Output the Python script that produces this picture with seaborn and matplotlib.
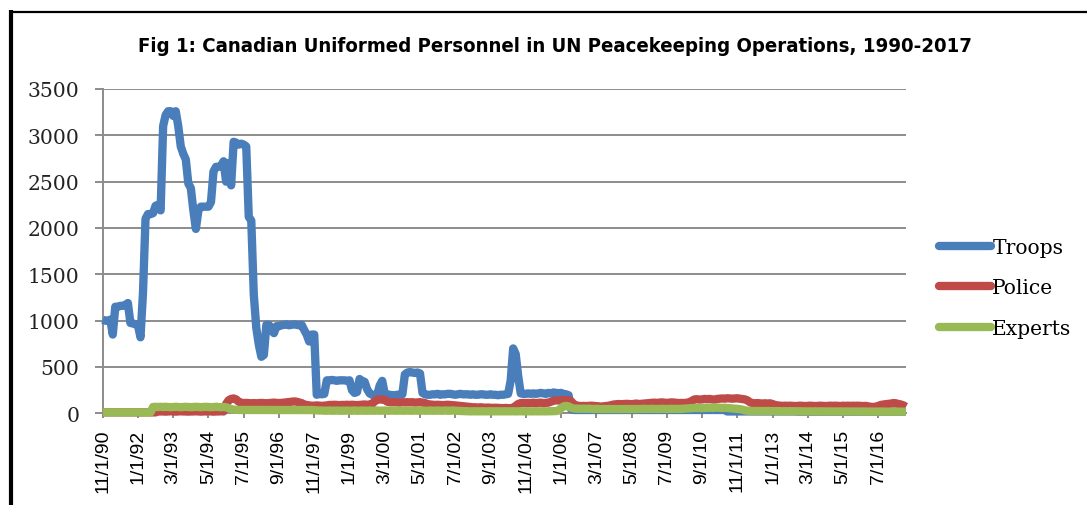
import numpy as np
import pandas as pd
import matplotlib
matplotlib.use("Agg")
import matplotlib.pyplot as plt
import seaborn as sns
from matplotlib.lines import Line2D
from matplotlib import font_manager
from matplotlib.font_manager import FontProperties

# ---------------- data (monthly, Nov 1990 - Jun 2017) ----------------
months = pd.date_range("1990-11-01", periods=320, freq="MS")

troops = [
    1010, 1000, 1000, 1010, 850, 1150, 1150, 1160, 1160, 1170, 1190, 975,
    970, 960, 950, 820, 1300, 2100, 2150, 2150, 2160, 2240, 2250, 2190,
    3100, 3220, 3260, 3260, 3210, 3260, 3100, 2880, 2800, 2740, 2480, 2430,
    2190, 1990, 2190, 2230, 2230, 2230, 2230, 2280, 2610, 2660, 2660, 2670,
    2720, 2500, 2700, 2460, 2930, 2920, 2900, 2910, 2900, 2880, 2120, 2080,
    1280, 920, 740, 610, 630, 955, 955, 900, 865, 940, 940, 950,
    955, 960, 950, 955, 960, 955, 950, 955, 900, 850, 775, 850,
    850, 200, 210, 205, 210, 356, 356, 360, 356, 350, 356, 356,
    356, 350, 356, 250, 220, 230, 370, 350, 340, 260, 215, 200,
    195, 200, 300, 350, 210, 205, 200, 195, 195, 200, 200, 205,
    420, 440, 445, 440, 435, 440, 430, 220, 205, 200, 200, 205,
    205, 210, 200, 205, 205, 210, 210, 205, 200, 205, 210, 205,
    205, 205, 200, 205, 200, 200, 205, 205, 200, 200, 205, 200,
    200, 195, 200, 200, 205, 210, 350, 700, 640, 400, 215, 210,
    210, 215, 210, 215, 210, 215, 220, 215, 210, 220, 215, 225,
    220, 215, 220, 210, 205, 195, 45, 36, 36, 36, 36, 36,
    36, 36, 36, 36, 36, 36, 36, 36, 36, 36, 36, 36,
    36, 36, 36, 36, 36, 36, 36, 36, 36, 36, 36, 36,
    36, 36, 36, 36, 36, 36, 36, 36, 36, 36, 36, 36,
    36, 36, 36, 36, 36, 36, 36, 36, 36, 36, 36, 36,
    36, 36, 36, 36, 36, 36, 36, 36, 20, 20, 20, 20,
    20, 20, 20, 20, 20, 20, 20, 20, 20, 20, 20, 20,
    20, 20, 20, 20, 20, 20, 20, 20, 20, 20, 20, 20,
    18, 18, 18, 18, 18, 18, 18, 18, 18, 18, 18, 18,
    18, 18, 18, 18, 18, 18, 18, 18, 18, 18, 18, 18,
    18, 18, 18, 18, 18, 18, 18, 18, 18, 18, 18, 18,
    18, 18, 18, 18, 18, 18, 18, 18,
]

police = [
    10, 10, 10, 10, 10, 10, 10, 10, 10, 10, 10, 10,
    10, 10, 10, 10, 10, 10, 10, 10, 10, 10, 20, 20,
    20, 18, 20, 22, 20, 18, 20, 22, 20, 20, 18, 20,
    20, 22, 20, 18, 20, 20, 22, 20, 18, 20, 20, 22,
    20, 100, 140, 155, 160, 150, 125, 115, 110, 112, 110, 108,
    110, 108, 110, 112, 110, 108, 110, 112, 115, 112, 110, 112,
    115, 118, 120, 125, 128, 125, 118, 110, 95, 90, 85, 82,
    82, 85, 82, 80, 82, 85, 90, 90, 92, 90, 88, 90,
    90, 92, 90, 92, 90, 88, 90, 92, 95, 92, 95, 100,
    130, 145, 150, 148, 145, 125, 120, 118, 120, 118, 115, 120,
    118, 120, 118, 120, 115, 118, 120, 115, 110, 100, 95, 92,
    90, 92, 90, 88, 90, 92, 90, 88, 85, 82, 78, 75,
    72, 70, 68, 65, 65, 62, 65, 62, 60, 62, 60, 58,
    60, 58, 55, 55, 58, 55, 55, 60, 80, 100, 110, 112,
    110, 112, 110, 115, 110, 112, 115, 110, 112, 115, 125, 135,
    140, 138, 140, 135, 145, 140, 130, 100, 85, 80, 78, 80,
    78, 80, 82, 80, 78, 75, 72, 75, 78, 82, 88, 95,
    98, 100, 98, 100, 102, 100, 98, 102, 105, 100, 102, 105,
    108, 110, 112, 115, 112, 115, 118, 115, 112, 115, 118, 115,
    112, 110, 112, 110, 115, 118, 135, 150, 152, 148, 150, 155,
    152, 155, 150, 148, 155, 158, 160, 158, 162, 160, 158, 160,
    162, 158, 155, 150, 140, 120, 110, 108, 110, 108, 105, 108,
    105, 108, 100, 90, 85, 82, 80, 82, 80, 82, 80, 78,
    80, 82, 80, 78, 80, 82, 80, 78, 80, 82, 80, 78,
    80, 82, 80, 82, 80, 78, 82, 80, 82, 80, 82, 80,
    82, 80, 78, 80, 75, 70, 68, 72, 80, 90, 95, 98,
    100, 105, 110, 108, 100, 95, 85, 70,
]

experts = [
    10, 10, 10, 10, 10, 10, 10, 10, 10, 10, 10, 10,
    10, 10, 10, 10, 10, 10, 10, 10, 68, 70, 68, 70,
    68, 70, 68, 66, 68, 70, 68, 66, 68, 70, 68, 66,
    68, 70, 68, 66, 68, 70, 68, 66, 68, 70, 68, 66,
    68, 65, 55, 45, 40, 38, 36, 36, 35, 36, 35, 36,
    36, 35, 36, 37, 36, 35, 36, 37, 36, 35, 36, 37,
    36, 35, 36, 37, 36, 35, 36, 37, 36, 35, 36, 35,
    34, 32, 30, 30, 28, 28, 30, 28, 28, 30, 28, 28,
    28, 30, 28, 28, 30, 28, 28, 30, 28, 28, 30, 28,
    28, 30, 28, 28, 30, 28, 28, 30, 28, 28, 30, 28,
    28, 30, 28, 28, 30, 28, 28, 30, 28, 28, 30, 28,
    28, 30, 28, 28, 30, 28, 28, 30, 28, 26, 25, 24,
    22, 22, 21, 22, 22, 21, 22, 22, 21, 22, 22, 21,
    22, 22, 21, 22, 22, 21, 22, 22, 21, 22, 22, 21,
    22, 22, 21, 22, 22, 21, 22, 22, 21, 22, 22, 24,
    24, 30, 55, 75, 80, 75, 60, 52, 50, 50, 48, 50,
    48, 50, 48, 46, 48, 46, 45, 46, 45, 46, 45, 46,
    45, 46, 45, 46, 45, 46, 45, 46, 45, 46, 47, 48,
    46, 47, 48, 47, 46, 47, 48, 47, 46, 47, 48, 47,
    48, 47, 48, 50, 52, 55, 56, 58, 57, 58, 56, 58,
    58, 60, 58, 60, 62, 60, 58, 60, 58, 55, 52, 50,
    48, 45, 40, 32, 28, 26, 25, 25, 24, 25, 24, 25,
    24, 25, 24, 23, 24, 23, 22, 23, 22, 23, 22, 22,
    22, 21, 22, 21, 20, 21, 20, 21, 20, 21, 20, 20,
    20, 19, 20, 19, 20, 19, 20, 19, 20, 19, 20, 19,
    20, 19, 20, 19, 18, 19, 18, 19, 18, 19, 18, 18,
    18, 19, 18, 19, 18, 18, 18, 18,
]

series_names = ["Troops", "Police", "Experts"]
series_colors = ["#4A7EBB", "#BE4B48", "#98B954"]

tick_labels = ["11/1/90", "1/1/92", "3/1/93", "5/1/94", "7/1/95", "9/1/96",
               "11/1/97", "1/1/99", "3/1/00", "5/1/01", "7/1/02", "9/1/03",
               "11/1/04", "1/1/06", "3/1/07", "5/1/08", "7/1/09", "9/1/10",
               "11/1/11", "1/1/13", "3/1/14", "5/1/15", "7/1/16"]
y_ticks = [0, 500, 1000, 1500, 2000, 2500, 3000, 3500]

title = "Fig 1: Canadian Uniformed Personnel in UN Peacekeeping Operations, 1990-2017"

n = len(months)
assert len(troops) == n and len(police) == n and len(experts) == n

df = pd.DataFrame({
    "idx": np.tile(np.arange(n), 3),
    "value": troops + police + experts,
    "series": np.repeat(series_names, n),
})

# ---------------- styling ----------------
sns.set_theme(style="white")
plt.rcParams["font.family"] = ["DejaVu Sans"]

W, H = 1087, 506
fig = plt.figure(figsize=(W / 100, H / 100), dpi=100)
fig.patch.set_facecolor("white")

x0, x1 = 102.7, 906.0
y0, y1 = 90.0, 414.3
ax = fig.add_axes([x0 / W, 1 - y1 / H, (x1 - x0) / W, (y1 - y0) / H])

grid_c = "#8C8C8C"
LW = 6.0

sns.lineplot(data=df, x="idx", y="value", hue="series", hue_order=series_names,
             palette=series_colors, linewidth=LW, ax=ax, legend=False,
             estimator=None, sort=False)
for ln in ax.lines:
    ln.set_clip_on(False)
    ln.set_solid_joinstyle("round")
    ln.set_solid_capstyle("butt")
    ln.set_zorder(3)

ax.set_xlim(0, n - 1)
ax.set_ylim(0, 3500)
ax.set_xlabel("")
ax.set_ylabel("")

ax.set_axisbelow(True)
ax.yaxis.grid(True, color=grid_c, linewidth=1.4)
ax.xaxis.grid(False)

for s in ["top", "right"]:
    ax.spines[s].set_visible(False)
for s in ["left", "bottom"]:
    ax.spines[s].set_color(grid_c)
    ax.spines[s].set_linewidth(1.4)
    ax.spines[s].set_zorder(1)

ax.set_yticks(y_ticks)
ax.set_yticklabels([str(v) for v in y_ticks], fontfamily="DejaVu Serif",
                   fontsize=14.6, color="#222222")
ax.set_xticks(list(range(0, n, 14))[:len(tick_labels)])
ax.set_xticklabels(tick_labels, rotation=90, fontfamily="Liberation Sans",
                   fontsize=14, color="black")
ax.tick_params(axis="y", which="major", left=True, length=5.8, width=1.4,
               color=grid_c, pad=11.0)
ax.tick_params(axis="x", which="major", bottom=True, length=3.6, width=1.4,
               color=grid_c, pad=7.5)

# legend
handles = [Line2D([0], [0], color=c, lw=LW, solid_capstyle="round")
           for c in series_colors]
leg = fig.legend(handles, series_names, loc="center left",
                 bbox_to_anchor=(939 / W, 1 - 289 / H),
                 bbox_transform=fig.transFigure, frameon=False,
                 prop={"family": "DejaVu Serif", "size": 14.6},
                 handlelength=2.55, handletextpad=0.08, labelspacing=1.05,
                 borderpad=0, borderaxespad=0)
for txt in leg.get_texts():
    txt.set_color("black")

# title (condensed bold sans if one is installed)
title_fp = None
for f in font_manager.fontManager.ttflist:
    nm = f.name.lower()
    if ("narrow" in nm or "condensed" in nm or f.stretch in ("condensed", "semi-condensed", 375, 500, 625)) \
            and ("sans" in nm or "arial" in nm) and f.weight in ("bold", 700, "semibold", 600):
        title_fp = FontProperties(fname=f.fname)
        break
if title_fp is None:
    title_fp = FontProperties(family="Liberation Sans", weight="bold")
title_fp.set_size(16)
t = fig.text(555 / W, 1 - 47 / H, title, ha="center", va="center",
             fontproperties=title_fp, color="black")
fig.canvas.draw()
r = fig.canvas.get_renderer()
w = t.get_window_extent(r).width
t.set_fontsize(16 * 840.0 / w)

# outer chart frame (left & top edges visible)
fig.add_artist(Line2D([11 / W, 11 / W], [1 - 11 / H, 0], color="black",
                      lw=3.0, transform=fig.transFigure, solid_capstyle="butt"))
fig.add_artist(Line2D([9.5 / W, 1.0], [1 - 12.5 / H, 1 - 12.5 / H],
                      color="black", lw=1.6, transform=fig.transFigure,
                      solid_capstyle="butt"))

fig.savefig("out.png", dpi=100)
